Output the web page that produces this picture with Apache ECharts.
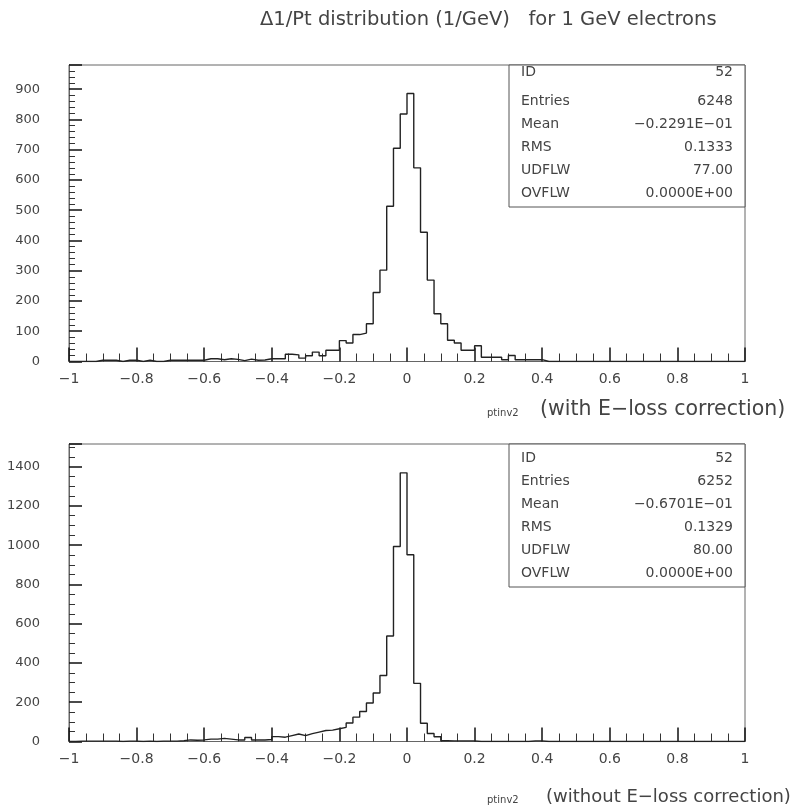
<!DOCTYPE html>
<html>
<head>
<meta charset="utf-8">
<script src="https://cdn.jsdelivr.net/npm/echarts@6/dist/echarts.min.js"></script>
<style>
  html, body { margin: 0; padding: 0; background: #ffffff; }
  #chart { width: 796px; height: 810px; }
</style>
</head>
<body>
<div id="chart"></div>
<script>
// ---- data ----
const titleText = 'Δ1/Pt distribution (1/GeV)   for 1 GeV electrons';
const xMin = -1;
const xMax = 1;
const binWidth = 0.02;
const xTickLabels = ['−1', '−0.8', '−0.6', '−0.4', '−0.2', '0', '0.2', '0.4', '0.6', '0.8', '1'];
const topYTickLabels = ['0', '100', '200', '300', '400', '500', '600', '700', '800', '900'];
const bottomYTickLabels = ['0', '200', '400', '600', '800', '1000', '1200', '1400'];

// counts per 0.02 bin from -1 to 1 (100 bins)
const topCounts = [
  0, 0, 0, 0, 4, 4, 4, 0, 4, 4,
  0, 4, 0, 0, 4, 4, 4, 4, 4, 4,
  9, 9, 6, 9, 7, 3, 8, 4, 5, 9,
  9, 9, 24, 22, 11, 19, 31, 19, 37, 37,
  69, 61, 89, 94, 125, 228, 302, 513, 705, 818,
  886, 640, 427, 269, 158, 125, 70, 61, 37, 37,
  52, 14, 14, 14, 6, 20, 6, 6, 6, 6,
  0, 0, 0, 0, 0, 0, 0, 0, 0, 0,
  0, 0, 0, 0, 0, 0, 0, 0, 0, 0,
  0, 0, 0, 0, 0, 0, 0, 0, 0, 0
];
const bottomCounts = [
  0, 2, 2, 2, 2, 2, 2, 0, 2, 2,
  0, 2, 0, 2, 2, 2, 4, 8, 6, 8,
  12, 12, 16, 12, 8, 8, 20, 8, 8, 10,
  25, 22, 30, 38, 30, 40, 48, 56, 58, 65,
  72, 94, 124, 153, 196, 247, 336, 537, 993, 1368,
  951, 296, 93, 41, 24, 4, 3, 3, 3, 3,
  0, 0, 0, 0, 0, 0, 0, 0, 3, 3,
  0, 0, 0, 0, 0, 0, 0, 0, 0, 0,
  0, 0, 0, 0, 0, 0, 0, 0, 0, 0,
  0, 0, 0, 0, 0, 0, 0, 0, 0, 0
];

const statLabels = ['ID', 'Entries', 'Mean', 'RMS', 'UDFLW', 'OVFLW'];
const topStats = ['52', '6248', '−0.2291E−01', '0.1333', '77.00', '0.0000E+00'];
const bottomStats = ['52', '6252', '−0.6701E−01', '0.1329', '80.00', '0.0000E+00'];
const topXName = '(with E−loss correction)';
const bottomXName = '(without E−loss correction)';
const varName = 'ptinv2';

// ---- build ----
function stepPoints(counts) {
  const pts = [];
  for (let i = 0; i < counts.length; i++) {
    pts.push([xMin + i * binWidth, counts[i]]);
  }
  pts.push([xMax, counts[counts.length - 1]]);
  return pts;
}

const FONT = 'DejaVu Sans';
const TXT = '#444';

function xAxisDef(gridIndex) {
  return {
    type: 'value', gridIndex: gridIndex, position: 'bottom', min: xMin, max: xMax, interval: 0.2,
    axisLine: { show: true, onZero: false, lineStyle: { color: '#666', width: 1 } },
    axisTick: { show: true, inside: true, length: 14, lineStyle: { color: '#111', width: 1.5 } },
    minorTick: { show: true, splitNumber: 4, length: 8, lineStyle: { color: '#333', width: 1 } },
    splitLine: { show: false },
    axisLabel: {
      margin: 11, color: TXT, fontFamily: FONT, fontSize: 14,
      formatter: function (v) {
        const idx = Math.round((v - xMin) / 0.2);
        return xTickLabels[idx] !== undefined ? xTickLabels[idx] : '';
      }
    }
  };
}

function yAxisDef(gridIndex, max, interval, split, labels) {
  return {
    type: 'value', gridIndex: gridIndex, position: 'left', min: 0, max: max, interval: interval,
    axisLine: { show: true, onZero: false, lineStyle: { color: '#666', width: 1 } },
    axisTick: { show: true, inside: true, length: 13, lineStyle: { color: '#111', width: 1.5 } },
    minorTick: { show: true, splitNumber: split, length: 6, lineStyle: { color: '#333', width: 1 } },
    splitLine: { show: false },
    axisLabel: {
      margin: 29, color: TXT, fontFamily: FONT, fontSize: 13, showMaxLabel: false,
      formatter: function (v) {
        const idx = Math.round(v / interval);
        return (Math.abs(v - idx * interval) < 1e-6 && labels[idx] !== undefined) ? labels[idx] : '';
      }
    }
  };
}

function statsBox(x, y, w, h, rowYs, values) {
  const els = [{
    type: 'rect', shape: { x: x, y: y, width: w, height: h },
    style: { fill: '#fff', stroke: '#555', lineWidth: 1 }, z: 100
  }];
  for (let i = 0; i < statLabels.length; i++) {
    els.push({
      type: 'text', x: x + 12, y: rowYs[i], z: 101,
      style: { text: statLabels[i], font: '14px "' + FONT + '"', fill: TXT, textVerticalAlign: 'middle', textAlign: 'left' }
    });
    els.push({
      type: 'text', x: x + w - 12, y: rowYs[i], z: 101,
      style: { text: values[i], font: '14px "' + FONT + '"', fill: TXT, textVerticalAlign: 'middle', textAlign: 'right' }
    });
  }
  return els;
}

const graphics = [].concat(
  statsBox(509, 65, 236, 142, [72, 101, 124, 147, 170, 193], topStats),
  statsBox(509, 444, 236, 143, [458, 481, 504, 527, 550, 573], bottomStats),
  [
    { type: 'text', x: 487, y: 413, style: { text: varName, font: '10px "' + FONT + '"', fill: TXT, textVerticalAlign: 'middle' } },
    { type: 'text', x: 540, y: 410, style: { text: topXName, font: '20.5px "' + FONT + '"', fill: TXT, textVerticalAlign: 'middle' } },
    { type: 'text', x: 487, y: 800, style: { text: varName, font: '10px "' + FONT + '"', fill: TXT, textVerticalAlign: 'middle' } },
    { type: 'text', x: 546, y: 797, style: { text: bottomXName, font: '18px "' + FONT + '"', fill: TXT, textVerticalAlign: 'middle' } }
  ]
);

const chart = echarts.init(document.getElementById('chart'), null, { renderer: 'canvas' });
chart.setOption({
  backgroundColor: '#ffffff',
  animation: false,
  title: {
    text: titleText, left: 255, top: 5,
    textStyle: { fontFamily: FONT, fontSize: 19.5, fontWeight: 'normal', color: TXT }
  },
  grid: [
    { left: 69, top: 65, width: 676, height: 296.5, show: true, borderColor: '#666', borderWidth: 1, backgroundColor: 'transparent' },
    { left: 69, top: 444, width: 676, height: 297.5, show: true, borderColor: '#666', borderWidth: 1, backgroundColor: 'transparent' }
  ],
  xAxis: [xAxisDef(0), xAxisDef(1)],
  yAxis: [
    yAxisDef(0, 980, 100, 5, topYTickLabels),
    yAxisDef(1, 1515, 200, 4, bottomYTickLabels)
  ],
  series: [
    {
      type: 'line', xAxisIndex: 0, yAxisIndex: 0, step: 'end', symbol: 'none',
      lineStyle: { color: '#222', width: 1.4 }, data: stepPoints(topCounts), z: 3
    },
    {
      type: 'line', xAxisIndex: 1, yAxisIndex: 1, step: 'end', symbol: 'none',
      lineStyle: { color: '#222', width: 1.4 }, data: stepPoints(bottomCounts), z: 3
    }
  ],
  graphic: graphics
});
</script>
</body>
</html>
